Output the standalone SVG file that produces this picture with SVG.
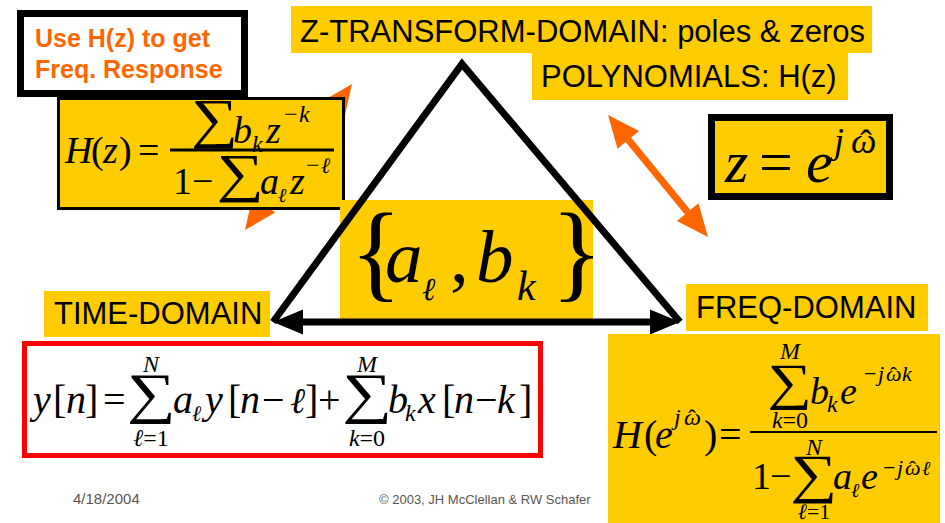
<svg xmlns="http://www.w3.org/2000/svg" width="945" height="523" viewBox="0 0 945 523">
<style>
.lbl{font-family:"Liberation Sans",Arial,sans-serif;font-size:31px;fill:#000}
.mi{font-family:"Liberation Serif","Times New Roman",serif;font-style:italic;fill:#000}
.mr{font-family:"Liberation Serif","Times New Roman",serif;fill:#000}
.sum{font-family:"Liberation Serif","Times New Roman",serif;fill:#000;text-anchor:middle}
.yl{fill:#FFCC00}
.or{fill:#FF6600}
.foot{font-family:"Liberation Sans",Arial,sans-serif;fill:#5a5550}
.use{font-family:"Liberation Sans",Arial,sans-serif;font-weight:bold;font-size:25px;fill:#FF6600}
</style>
<rect width="945" height="523" fill="#fff"/>

<g id="connectors">
  <g id="arrow-hz">
    <line x1="263.9" y1="204.2" x2="333.1" y2="109.8" stroke="#FF6600" stroke-width="7"/>
    <polygon class="or" points="352,84 344.4,118.1 321.8,101.5"/>
    <polygon class="or" points="245,230 275.2,212.5 252.6,195.9"/>
  </g>
  <g id="arrow-zw">
    <line x1="628.3" y1="139.8" x2="687.7" y2="212.2" stroke="#FF6600" stroke-width="7"/>
    <polygon class="or" points="608,115 617.5,148.7 639.1,130.9"/>
    <polygon class="or" points="708,237 676.9,221.1 698.5,203.3"/>
  </g>
</g>

<g id="use-hz">
  <rect x="20.5" y="13.5" width="224" height="80" fill="#fff" stroke="#000" stroke-width="7"/>
  <text class="use" x="35" y="47">Use H(z) to get</text>
  <text class="use" x="35" y="78">Freq. Response</text>
</g>

<g id="hz">
  <rect x="58.5" y="98.5" width="285" height="110" class="yl" stroke="#000" stroke-width="3"/>
  <text class="mi" x="65" y="163" font-size="38">H</text>
  <text class="mr" x="91" y="163" font-size="38">(</text>
  <text class="mi" x="103" y="163" font-size="38">z</text>
  <text class="mr" x="119" y="163" font-size="38">)</text>
  <text class="mr" x="138" y="163" font-size="38">=</text>
  <line x1="170" y1="150" x2="334" y2="150" stroke="#000" stroke-width="3"/>
  <text class="sum" font-size="55" transform="translate(214.5,137) scale(1.2,1)">∑</text>
  <text class="mi" x="233" y="143" font-size="38">b</text>
  <text class="mi" x="252" y="152" font-size="24">k</text>
  <text class="mi" x="266" y="143" font-size="38">z</text>
  <text class="mr" x="284" y="122" font-size="24">−</text>
  <text class="mi" x="299" y="122" font-size="24">k</text>
  <text class="mr" x="173" y="194" font-size="38">1</text>
  <text class="mr" x="192" y="194" font-size="38">−</text>
  <text class="sum" font-size="53" transform="translate(240,191) scale(1.25,1)">∑</text>
  <text class="mi" x="260" y="194" font-size="38">a</text>
  <text class="mi" x="278" y="202" font-size="20">ℓ</text>
  <text class="mi" x="290" y="194" font-size="38">z</text>
  <text class="mr" x="306" y="173" font-size="24">−</text>
  <text class="mi" x="321" y="173" font-size="22">ℓ</text>
</g>

<g id="z-domain">
  <rect x="291" y="6" width="581" height="47" class="yl"/>
  <text class="lbl" x="300" y="42">Z-TRANSFORM-DOMAIN: poles &amp; zeros</text>
</g>
<g id="polynomials">
  <rect x="532" y="53" width="316" height="47" class="yl"/>
  <text class="lbl" x="541" y="87">POLYNOMIALS: H(z)</text>
</g>

<g id="z-ejw">
  <rect x="711.5" y="117.5" width="178" height="79" class="yl" stroke="#000" stroke-width="7"/>
  <text class="mi" x="725" y="182" font-size="60">z</text>
  <text class="mr" x="759" y="182" font-size="60">=</text>
  <text class="mi" x="806" y="182" font-size="60">e</text>
  <text class="mi" x="834" y="153" font-size="36">j</text>
  <text class="mi" x="851" y="153" font-size="36">ω</text>
  <text class="mr" x="866" y="155" font-size="36" text-anchor="middle">ˆ</text>
</g>

<g id="coeffs">
  <rect x="340" y="200" width="253" height="119" class="yl"/>
  <text class="mr" x="350" y="288" font-size="108">{</text>
  <text class="mi" x="385" y="282" font-size="75">a</text>
  <text class="mi" x="422" y="300" font-size="32">ℓ</text>
  <text class="mr" x="450" y="282" font-size="75">,</text>
  <text class="mi" x="476" y="282" font-size="75">b</text>
  <text class="mi" x="517" y="300" font-size="42">k</text>
  <text class="mr" x="551" y="288" font-size="108">}</text>
</g>

<g id="triangle">
  <polyline points="273,322 462,64 680,322" fill="none" stroke="#000" stroke-width="7" stroke-linejoin="miter"/>
  <line x1="300" y1="322" x2="653" y2="322" stroke="#000" stroke-width="7"/>
  <polygon points="273,322 303,309.5 303,334.5" fill="#000"/>
  <polygon points="680,322 650,309.5 650,334.5" fill="#000"/>
</g>

<g id="time-domain">
  <rect x="44" y="291" width="226" height="46" class="yl"/>
  <text class="lbl" x="54" y="324">TIME-DOMAIN</text>
</g>

<g id="difference-eq">
  <rect x="24.5" y="343.5" width="516" height="112" fill="#fff" stroke="#FF0000" stroke-width="5"/>
  <text class="mi" x="33" y="413" font-size="40">y</text>
  <text class="mr" x="53" y="413" font-size="40">[</text>
  <text class="mi" x="66" y="413" font-size="40">n</text>
  <text class="mr" x="85" y="413" font-size="40">]</text>
  <text class="mr" x="103" y="413" font-size="40">=</text>
  <text class="sum" font-size="56" transform="translate(151,412) scale(1.22,1)">∑</text>
  <text class="mi" x="151" y="372" font-size="24" text-anchor="middle">N</text>
  <text class="mi" x="151" y="446" font-size="24" text-anchor="middle">ℓ<tspan font-style="normal">=1</tspan></text>
  <text class="mi" x="173" y="413" font-size="40">a</text>
  <text class="mi" x="192" y="421" font-size="22">ℓ</text>
  <text class="mi" x="205" y="413" font-size="40">y</text>
  <text class="mr" x="228" y="413" font-size="40">[</text>
  <text class="mi" x="240" y="413" font-size="40">n</text>
  <text class="mr" x="262" y="413" font-size="40">−</text>
  <text class="mi" x="290" y="413" font-size="36">ℓ</text>
  <text class="mr" x="305" y="413" font-size="40">]</text>
  <text class="mr" x="318" y="413" font-size="40">+</text>
  <text class="sum" font-size="56" transform="translate(367,412) scale(1.25,1)">∑</text>
  <text class="mi" x="367" y="372" font-size="24" text-anchor="middle">M</text>
  <text class="mi" x="367" y="446" font-size="24" text-anchor="middle">k<tspan font-style="normal">=0</tspan></text>
  <text class="mi" x="388" y="413" font-size="40">b</text>
  <text class="mi" x="405" y="421" font-size="24">k</text>
  <text class="mi" x="418" y="413" font-size="40">x</text>
  <text class="mr" x="442" y="413" font-size="40">[</text>
  <text class="mi" x="454" y="413" font-size="40">n</text>
  <text class="mr" x="475" y="413" font-size="40">−</text>
  <text class="mi" x="497" y="413" font-size="40">k</text>
  <text class="mr" x="519" y="413" font-size="40">]</text>
</g>

<g id="freq-domain">
  <rect x="686" y="284" width="242" height="47" class="yl"/>
  <text class="lbl" x="696" y="318">FREQ-DOMAIN</text>
</g>

<g id="freq-response">
  <rect x="608" y="334" width="332" height="189" class="yl"/>
  <text class="mi" x="613" y="448" font-size="40">H</text>
  <text class="mr" x="644" y="448" font-size="40">(</text>
  <text class="mi" x="655" y="448" font-size="40">e</text>
  <text class="mi" x="674" y="425" font-size="24">j</text>
  <text class="mi" x="684" y="425" font-size="24">ω</text>
  <text class="mr" x="692" y="426" font-size="24" text-anchor="middle">ˆ</text>
  <text class="mr" x="704" y="448" font-size="40">)</text>
  <text class="mr" x="719" y="448" font-size="40">=</text>
  <line x1="750" y1="432" x2="937" y2="432" stroke="#000" stroke-width="2"/>
  <text class="mi" x="790" y="359" font-size="24" text-anchor="middle">M</text>
  <text class="sum" font-size="51" transform="translate(790,399) scale(1.22,1)">∑</text>
  <text class="mi" x="790" y="428" font-size="24" text-anchor="middle">k<tspan font-style="normal">=0</tspan></text>
  <text class="mi" x="810" y="404" font-size="38">b</text>
  <text class="mi" x="827" y="412" font-size="24">k</text>
  <text class="mi" x="840" y="404" font-size="38">e</text>
  <text class="mr" x="864" y="381" font-size="22">−</text>
  <text class="mi" x="878" y="381" font-size="22">j</text>
  <text class="mi" x="886" y="381" font-size="22">ω</text>
  <text class="mr" x="893.5" y="382" font-size="22" text-anchor="middle">ˆ</text>
  <text class="mi" x="902" y="381" font-size="22">k</text>
  <text class="mr" x="752" y="489" font-size="38">1</text>
  <text class="mr" x="770" y="489" font-size="38">−</text>
  <text class="mi" x="814" y="455" font-size="24" text-anchor="middle">N</text>
  <text class="sum" font-size="54" transform="translate(814,492) scale(1.22,1)">∑</text>
  <text class="mi" x="814" y="519" font-size="22" text-anchor="middle">ℓ<tspan font-style="normal">=1</tspan></text>
  <text class="mi" x="833" y="489" font-size="38">a</text>
  <text class="mi" x="851" y="497" font-size="20">ℓ</text>
  <text class="mi" x="861" y="489" font-size="38">e</text>
  <text class="mr" x="883" y="475" font-size="22">−</text>
  <text class="mi" x="897" y="475" font-size="22">j</text>
  <text class="mi" x="905" y="475" font-size="22">ω</text>
  <text class="mr" x="912.5" y="476" font-size="22" text-anchor="middle">ˆ</text>
  <text class="mi" x="922" y="475" font-size="20">ℓ</text>
</g>

<g id="footer">
  <text class="foot" x="73" y="504" font-size="15">4/18/2004</text>
  <text class="foot" x="379" y="504" font-size="13">© 2003, JH McClellan &amp; RW Schafer</text>
</g>
</svg>
